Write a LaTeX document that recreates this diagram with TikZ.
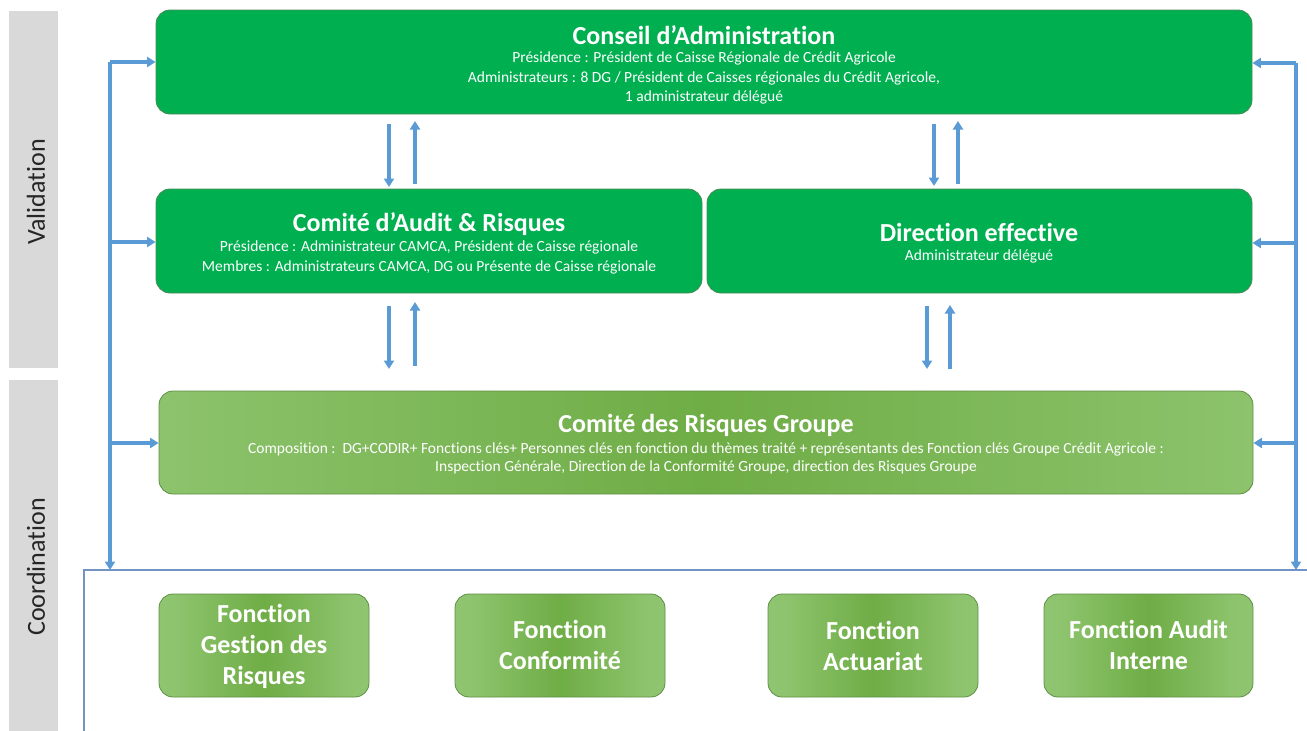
\documentclass[tikz,border=0pt]{standalone}
\usepackage{fontspec}
\setmainfont{Carlito}[Ligatures=NoCommon]
\usetikzlibrary{arrows.meta,calc}
\definecolor{topgreen}{HTML}{00AF50}
\definecolor{topborder}{HTML}{4A8A55}
\definecolor{lg}{HTML}{A3D089}
\definecolor{mg}{HTML}{8CC36C}
\definecolor{dg}{HTML}{6FAD46}
\definecolor{lborder}{HTML}{5F8F45}
\definecolor{arrowblue}{HTML}{5B9BD5}
\definecolor{framecol}{HTML}{7393C4}
\definecolor{bandgray}{HTML}{D9D9D9}
\definecolor{labelgray}{HTML}{262626}
\pgfdeclarehorizontalshading{crgshade}{100bp}{color(0bp)=(lg); color(25bp)=(mg); color(50bp)=(dg); color(75bp)=(mg); color(100bp)=(lg)}
\pgfdeclarehorizontalshading{fshade}{100bp}{color(0bp)=(lg); color(30bp)=(mg); color(50bp)=(dg); color(70bp)=(mg); color(100bp)=(lg)}
\tikzset{
  topbox/.style={draw=topborder, line width=0.8pt, fill=topgreen, rounded corners=14pt, inner sep=0pt},
  lightbox/.style={draw=lborder, line width=0.8pt, shading=crgshade, rounded corners=14pt, inner sep=0pt},
  fbox/.style={draw=lborder, line width=0.8pt, shading=fshade, rounded corners=14pt, inner sep=0pt, minimum height=103pt},
  title/.style={text=white, font=\bfseries\fontsize{26}{30}\selectfont, inner sep=0pt},
  sub/.style={text=white, font=\fontsize{15.5}{18}\selectfont, inner sep=0pt},
  ftext/.style={text=white, font=\bfseries\fontsize{26}{31}\selectfont, align=center, inner sep=0pt},
  side/.style={text=labelgray, font=\fontsize{26}{30}\selectfont, rotate=90, inner sep=0pt},
  arr/.style={draw=arrowblue, line width=3.2pt, -{Triangle[length=8.5pt,width=10pt]}},
}
\begin{document}
\begin{tikzpicture}[x=1pt,y=-1pt]
\useasboundingbox (0,0) rectangle (1307,731);
% side bands
\fill[bandgray] (9,11) rectangle (58,368);
\fill[bandgray] (9,380) rectangle (58,731);
\node[side] (val) at (36,192) {Validation};
\node[side] (coo) at (36,567) {Coordination};
% frame
\draw[framecol, line width=1.2pt] (84,731) -- (84,570) -- (1307,570);
% boxes
\node[topbox, minimum width=1096pt, minimum height=104pt] (ca) at (704,62) {};
\node[topbox, minimum width=546pt, minimum height=104pt] (audit) at (429,241) {};
\node[topbox, minimum width=545pt, minimum height=104pt] (dir) at (979.5,241) {};
\node[lightbox, minimum width=1094pt, minimum height=103pt] (crg) at (706,442.5) {};
\node[fbox, minimum width=210pt] (f1) at (264,645.5) {};
\node[fbox, minimum width=210pt] (f2) at (560,645.5) {};
\node[fbox, minimum width=210pt] (f3) at (873,645.5) {};
\node[fbox, minimum width=209pt] (f4) at (1148.5,645.5) {};
% texts
\node[title] (cat) at (704,35) {Conseil d’Administration};
\node[sub] (ca1) at (704,58) {Présidence : Président de Caisse Régionale de Crédit Agricole};
\node[sub] (ca2) at (704,78) {Administrateurs : 8 DG / Président de Caisses régionales du Crédit Agricole,};
\node[sub] (ca3) at (704,97) {1 administrateur délégué};
\node[title] (aut) at (429,224) {Comité d’Audit \& Risques};
\node[sub] (au1) at (429,247) {Présidence : Administrateur CAMCA, Président de Caisse régionale};
\node[sub] (au2) at (429,267) {Membres : Administrateurs CAMCA, DG ou Présente de Caisse régionale};
\node[title] (dit) at (979,232) {Direction effective};
\node[sub] (di1) at (979,256) {Administrateur délégué};
\node[title] (crt) at (706,425) {Comité des Risques Groupe};
\node[sub] (cr1) at (706,449) {Composition :\ \ DG+CODIR+ Fonctions clés+ Personnes clés en fonction du thèmes traité + représentants des Fonction clés Groupe Crédit Agricole :};
\node[sub] (cr2) at (706,467) {Inspection Générale, Direction de la Conformité Groupe, direction des Risques Groupe};
\node[ftext] (f1t) at (264,646) {Fonction\\Gestion des\\Risques};
\node[ftext] (f2t) at (560,645) {Fonction\\Conformité};
\node[ftext] (f3t) at (873,646) {Fonction\\Actuariat};
\node[ftext] (f4t) at (1148.5,645) {Fonction Audit\\Interne};
% left bus
\coordinate (ltop) at (110,62);
\coordinate (lbot) at (110,570);
\draw[arr] (ltop) -- (lbot);
\draw[arr] (ltop) -- (ca.west |- ltop);
\draw[arr] (110,242) -- (audit.west |- 0,242);
\draw[arr] (110,443) -- (crg.west |- 0,443);
% right bus
\coordinate (rtop) at (1296,63);
\coordinate (rbot) at (1296,570);
\draw[arr] (rtop) -- (rbot);
\draw[arr] (rtop) -- (ca.east |- rtop);
\draw[arr] (1296,243) -- (dir.east |- 0,243);
\draw[arr] (1296,443) -- (crg.east |- 0,443);
% vertical pairs
\draw[arr] (389,124) -- (389,187);
\draw[arr] (415,184) -- (415,121);
\draw[arr] (934,124) -- (934,186);
\draw[arr] (958,184) -- (958,121);
\draw[arr] (389,306) -- (389,369);
\draw[arr] (415,366) -- (415,302);
\draw[arr] (927,306) -- (927,369);
\draw[arr] (950,369) -- (950,305);
\end{tikzpicture}
\end{document}
